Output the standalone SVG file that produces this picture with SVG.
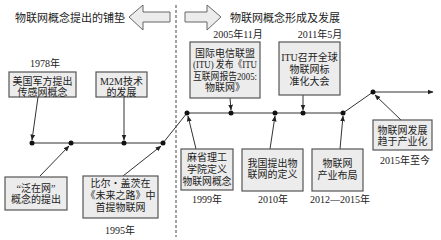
<svg xmlns="http://www.w3.org/2000/svg" width="441" height="240" viewBox="0 0 441 240">
<style>
text{font-family:"Liberation Serif","Noto Sans CJK SC",serif;fill:#222;}
.t{font-size:11px;}
.b{font-size:10px;text-anchor:middle;}
.box{fill:#ececec;stroke:#555;stroke-width:1.2;}
.blk{fill:#ececec;stroke:#666;stroke-width:1;}
.ln{fill:none;stroke:#333;stroke-width:1;}
.dot{fill:#111;}
</style>
<defs>
<marker id="ah" viewBox="0 0 10 10" refX="9" refY="5" markerWidth="6" markerHeight="6" orient="auto" markerUnits="userSpaceOnUse">
<path d="M0,1 L10,5 L0,9 Z" fill="#222"/>
</marker>
</defs>
<g id="header">
<text class="t" x="15" y="22">物联网概念提出的铺垫</text>
<polygon class="blk" points="129,17 143,5 143,12 170,12 170,22 143,22 143,30"/>
<polygon class="blk" points="185,12 207,12 207,5 221,17 207,30 207,22 185,22"/>
<text class="t" x="230" y="22">物联网概念形成及发展</text>
<line x1="176" y1="5" x2="176" y2="237" stroke="#444" stroke-width="1" stroke-dasharray="3,2"/>
</g>
<g id="connectors">
<path class="ln" d="M32,143 H163 L187,113 H343 L373,92 H433" marker-end="url(#ah)"/>
<line class="ln" x1="38" y1="97" x2="32" y2="140" marker-end="url(#ah)"/>
<line class="ln" x1="124" y1="97" x2="124" y2="140" marker-end="url(#ah)"/>
<line class="ln" x1="40" y1="176" x2="69" y2="146" marker-end="url(#ah)"/>
<line class="ln" x1="123" y1="176" x2="161" y2="146" marker-end="url(#ah)"/>
<line class="ln" x1="230" y1="98" x2="231" y2="110" marker-end="url(#ah)"/>
<line class="ln" x1="303" y1="95" x2="303" y2="110" marker-end="url(#ah)"/>
<line class="ln" x1="196" y1="149" x2="188" y2="116" marker-end="url(#ah)"/>
<line class="ln" x1="270" y1="149" x2="275" y2="116" marker-end="url(#ah)"/>
<line class="ln" x1="340" y1="149" x2="343" y2="116" marker-end="url(#ah)"/>
<line class="ln" x1="401" y1="120" x2="375" y2="95" marker-end="url(#ah)"/>
<circle class="dot" cx="32" cy="143" r="2.5"/>
<circle class="dot" cx="71" cy="143" r="2.5"/>
<circle class="dot" cx="124" cy="143" r="2.5"/>
<circle class="dot" cx="163" cy="143" r="2.5"/>
<circle class="dot" cx="187" cy="113" r="2.5"/>
<circle class="dot" cx="231" cy="113" r="2.5"/>
<circle class="dot" cx="275" cy="113" r="2.5"/>
<circle class="dot" cx="303" cy="113" r="2.5"/>
<circle class="dot" cx="343" cy="113" r="2.5"/>
<circle class="dot" cx="373" cy="92" r="2.5"/>
</g>
<g id="n1978">
<text class="b" x="45" y="67">1978年</text>
<rect class="box" x="9" y="72" width="67" height="25"/>
<text class="b" x="42.5" y="85">美国军方提出</text>
<text class="b" x="42.5" y="96">传感网概念</text>
</g>
<g id="nM2M">
<rect class="box" x="96" y="72" width="51" height="25"/>
<text class="b" x="121.5" y="85">M2M技术</text>
<text class="b" x="121.5" y="96">的发展</text>
</g>
<g id="nFanzai">
<rect class="box" x="5" y="177" width="62" height="33"/>
<text class="b" x="36" y="192">“泛在网”</text>
<text class="b" x="36" y="203">概念的提出</text>
</g>
<g id="n1995">
<rect class="box" x="83" y="176" width="75" height="42"/>
<text class="b" x="120.5" y="187">比尔・盖茨在</text>
<text class="b" x="120.5" y="199">《未来之路》中</text>
<text class="b" x="120.5" y="211">首提物联网</text>
<text class="b" x="120" y="234">1995年</text>
</g>
<g id="n2005">
<text class="b" x="238" y="38">2005年11月</text>
<rect class="box" x="190" y="42" width="70" height="56"/>
<text class="b" x="225" y="57">国际电信联盟</text>
<text class="b" x="225" y="68" textLength="64" lengthAdjust="spacingAndGlyphs">(ITU) 发布《ITU</text>
<text class="b" x="225" y="80" textLength="64" lengthAdjust="spacingAndGlyphs">互联网报告2005:</text>
<text class="b" x="225" y="91">物联网》</text>
</g>
<g id="n2011">
<text class="b" x="320" y="38">2011年5月</text>
<rect class="box" x="279" y="42" width="61" height="53"/>
<text class="b" x="309.5" y="61">ITU召开全球</text>
<text class="b" x="309.5" y="73">物联网标</text>
<text class="b" x="309.5" y="85">准化大会</text>
</g>
<g id="n1999">
<rect class="box" x="181" y="149" width="52" height="41"/>
<text class="b" x="207" y="161">麻省理工</text>
<text class="b" x="207" y="173">学院定义</text>
<text class="b" x="207" y="185" textLength="49" lengthAdjust="spacingAndGlyphs">物联网概念</text>
<text class="b" x="207" y="203">1999年</text>
</g>
<g id="n2010">
<rect class="box" x="242" y="149" width="61" height="42"/>
<text class="b" x="272.5" y="167">我国提出物</text>
<text class="b" x="272.5" y="178">联网的定义</text>
<text class="b" x="273" y="203">2010年</text>
</g>
<g id="n2012">
<rect class="box" x="312" y="149" width="51" height="42"/>
<text class="b" x="337.5" y="167">物联网</text>
<text class="b" x="337.5" y="179">产业布局</text>
<text class="b" x="340" y="203">2012—2015年</text>
</g>
<g id="n2015">
<rect class="box" x="373" y="120" width="59" height="30"/>
<text class="b" x="402.5" y="134">物联网发展</text>
<text class="b" x="402.5" y="145">趋于产业化</text>
<text class="b" x="405" y="164">2015年至今</text>
</g>
</svg>
